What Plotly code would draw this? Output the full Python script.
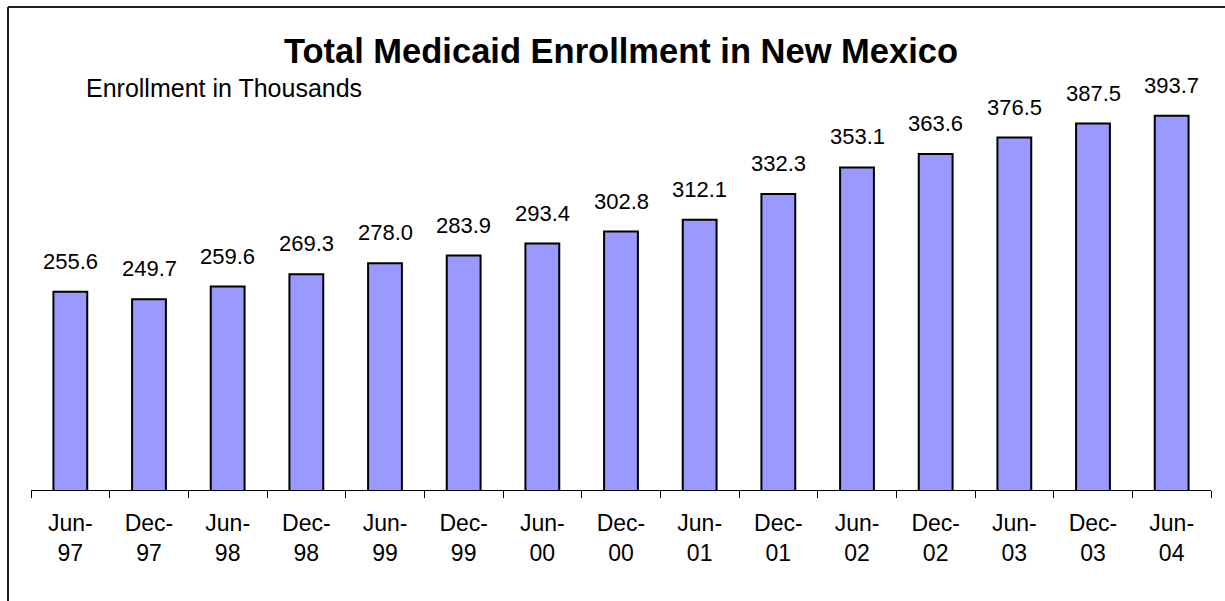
import plotly.graph_objects as go

# enrollment data, thousands
months = ["Jun-97", "Dec-97", "Jun-98", "Dec-98", "Jun-99", "Dec-99", "Jun-00", "Dec-00",
          "Jun-01", "Dec-01", "Jun-02", "Dec-02", "Jun-03", "Dec-03", "Jun-04"]
enrollment = [255.6, 249.7, 259.6, 269.3, 278.0, 283.9, 293.4, 302.8,
              312.1, 332.3, 353.1, 363.6, 376.5, 387.5, 393.7]
tick_text = [m.replace("-", "-<br>") for m in months]

W, H = 1225, 601
L, R, T, B = 31, 14, 40, 111
FONT = "Arial, Liberation Sans, sans-serif"

fig = go.Figure()
fig.add_trace(go.Bar(
    x=months, y=enrollment,
    marker=dict(color="#9999FF", line=dict(color="black", width=2)),
    hoverinfo="x+y",
))

# value labels above the bars
for m, v in zip(months, enrollment):
    fig.add_annotation(x=m, y=v, text=f"{v:.1f}", showarrow=False,
                       yanchor="bottom", yshift=16,
                       font=dict(family=FONT, size=22, color="black"))

fig.add_annotation(xref="paper", yref="paper", x=(84 - L) / (W - L - R), y=(H - B - 88) / (H - T - B),
                   xanchor="left", yanchor="middle", showarrow=False,
                   text="Enrollment in Thousands", font=dict(family=FONT, size=25, color="black"))

# chart frame (only left/top edge visible in the reference)
pw, ph = W - L - R, H - T - B
fx = (8 - L) / pw
fy = (H - B - 7) / ph
fig.add_shape(type="line", xref="paper", yref="paper", x0=fx, x1=fx, y0=fy, y1=-0.4,
              line=dict(color="#222222", width=2))
fig.add_shape(type="line", xref="paper", yref="paper", x0=fx, x1=1.1, y0=fy, y1=fy,
              line=dict(color="#222222", width=2))

fig.update_layout(
    width=W, height=H,
    margin=dict(l=L, r=R, t=T, b=B),
    paper_bgcolor="white", plot_bgcolor="white",
    bargap=0.57,
    showlegend=False,
    title=dict(text="<b>Total Medicaid Enrollment in New Mexico</b>",
               x=621 / W, y=1 - 51 / H, xanchor="center", yanchor="middle",
               font=dict(family=FONT, size=34.5, color="black")),
    font=dict(family=FONT, color="black"),
)
fig.update_xaxes(type="category", tickmode="array", tickvals=months, ticktext=tick_text,
                 tickson="boundaries", ticks="outside", ticklen=7, tickcolor="black", tickwidth=1,
                 showline=True, linecolor="black", linewidth=1, showgrid=False,
                 ticklabelstandoff=12,
                 tickfont=dict(family=FONT, size=23, color="black"), range=[-0.5, 14.5])
fig.update_yaxes(range=[100, 100 + (H - T - B) / 1.2745], visible=False, showgrid=False)

# drop the default body margin so the figure sits at the page origin
fig.write_html("out.html", config={"displayModeBar": False},
               post_script="document.body.style.margin='0';")
